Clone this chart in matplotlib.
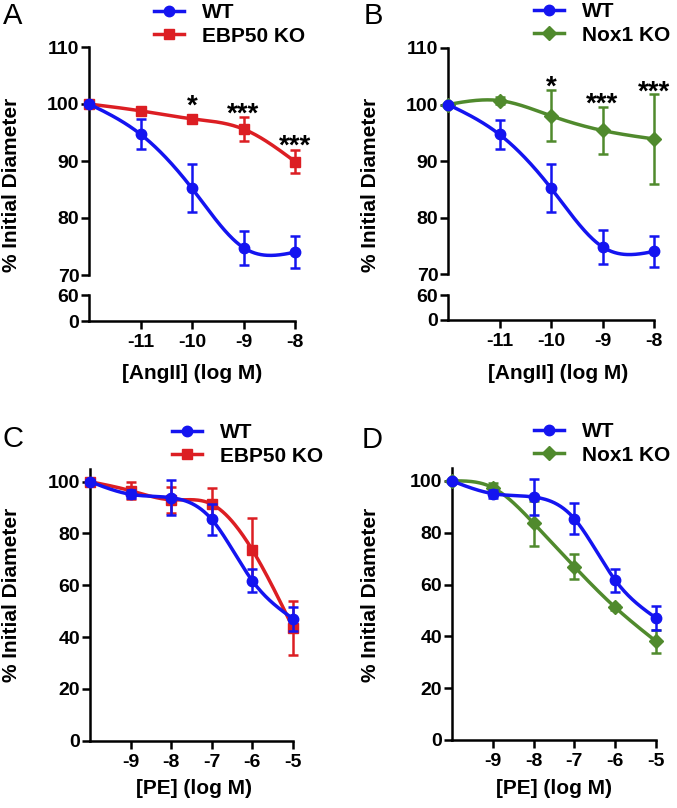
import numpy as np
import matplotlib
matplotlib.use("Agg")
import matplotlib.pyplot as plt
from matplotlib.lines import Line2D

plt.rcParams["font.family"] = ["Liberation Sans", "DejaVu Sans"]
plt.rcParams["font.weight"] = "bold"

# AngII dose response (log M), first point is the baseline
ang_x = [-12, -11, -10, -9, -8]
ang_ticks = [-11, -10, -9, -8]
wt_ang = [100, 94.7, 85.2, 74.8, 74.0]
wt_ang_err = [0, 2.6, 4.2, 3.0, 2.8]
ebp_ang = [100, 98.8, 97.4, 95.6, 89.9]
ebp_ang_err = [0, 0.5, 0.6, 2.1, 2.0]
nox_ang = [100, 100.7, 98.0, 95.4, 93.9]
nox_ang_err = [0, 0.6, 4.5, 4.1, 7.9]

# PE dose response (log M)
pe_x = [-10, -9, -8, -7, -6, -5]
pe_ticks = [-9, -8, -7, -6, -5]
wt_pe = [100, 95.1, 93.8, 85.4, 61.7, 47.1]
wt_pe_err = [0.5, 1.5, 6.8, 5.9, 4.4, 4.6]
ebp_pe = [100, 96.5, 93.0, 91.3, 73.6, 43.6]
ebp_pe_err = [1.0, 3.3, 5.0, 6.2, 12.3, 10.5]
nox_pe = [100, 97.4, 83.7, 66.9, 51.2, 38.1]
nox_pe_err = [0.5, 2.0, 8.7, 4.8, 1.0, 4.5]

# significance marks
stars_a_x = [-10, -9, -8]
stars_a_y = [101.4, 100.0, 94.4]
stars_b_x = [-10, -9, -8]
stars_b_y = [104.8, 101.8, 103.9]
stars_labels = ["*", "***", "***"]

BLUE = "#1414f0"
RED = "#dc1e23"
GREEN = "#508a2d"

W, H = 677, 808


def rect(left, right, top, bottom):
    return [left / W, 1 - bottom / H, (right - left) / W, (bottom - top) / H]


def spline(x, y, n=200):
    # natural cubic spline through the means
    x = np.asarray(x, float)
    y = np.asarray(y, float)
    h = np.diff(x)
    m = len(x)
    A = np.zeros((m, m))
    b = np.zeros(m)
    A[0, 0] = A[-1, -1] = 1
    for i in range(1, m - 1):
        A[i, i - 1] = h[i - 1]
        A[i, i] = 2 * (h[i - 1] + h[i])
        A[i, i + 1] = h[i]
        b[i] = 3 * ((y[i + 1] - y[i]) / h[i] - (y[i] - y[i - 1]) / h[i - 1])
    c = np.linalg.solve(A, b)
    bb = (y[1:] - y[:-1]) / h - h * (2 * c[:-1] + c[1:]) / 3
    d = (c[1:] - c[:-1]) / (3 * h)
    xs = np.linspace(x[0], x[-1], n)
    k = np.clip(np.searchsorted(x, xs) - 1, 0, m - 2)
    t = xs - x[k]
    ys = y[k] + bb[k] * t + c[k] * t ** 2 + d[k] * t ** 3
    return xs, ys


def style(ax):
    for s in ["top", "right"]:
        ax.spines[s].set_visible(False)
    for s in ["left", "bottom"]:
        ax.spines[s].set_linewidth(1.8)
    ax.tick_params(direction="out", length=5.5, width=1.8, labelsize=14)
    ax.tick_params(axis="y", pad=1.5)
    ax.tick_params(axis="x", pad=4)


def series(ax, x, y, err, color, marker, ms, z):
    xs, ys = spline(x, y)
    ax.plot(xs, ys, color=color, lw=2.5, zorder=z, clip_on=False)
    ax.errorbar(x, y, yerr=err, fmt="none", ecolor=color, elinewidth=1.8,
                capsize=3.5, capthick=1.8, zorder=z, clip_on=False)
    ax.plot(x, y, ls="none", marker=marker, ms=ms, color=color,
            zorder=z + 0.5, clip_on=False)


def legend(fig, x0, top, labels, colors, markers, sizes):
    handles = [Line2D([], [], color=c, lw=2.5, marker=mk, ms=s)
               for c, mk, s in zip(colors, markers, sizes)]
    fig.legend(handles, labels, loc="upper left",
               bbox_to_anchor=(x0 / W, 1 - top / H), frameon=False,
               borderpad=0, borderaxespad=0, handlelength=1.44,
               handletextpad=0.86, labelspacing=0.22,
               prop={"size": 15, "weight": "bold"})


def stars(ax, xs, ys):
    for x, y, s in zip(xs, ys, stars_labels):
        ax.annotate(s, (x, y), xytext=(0, -12.5), textcoords="offset points",
                    ha="center", va="baseline", fontsize=20, fontweight="bold",
                    annotation_clip=False)


fig = plt.figure(figsize=(W / 100, H / 100), dpi=100)


def broken_panel(left, right, top, mid_top, mid_bot, bottom, ko, ko_err,
                 ko_color, ko_marker, ko_ms, sx, sy):
    ax = fig.add_axes(rect(left, right, top, mid_top))
    axb = fig.add_axes(rect(left, right, mid_bot, bottom))
    style(ax)
    style(axb)
    ax.spines["bottom"].set_visible(False)
    ax.set_xticks([])
    ax.set_xlim(-12, -8)
    ax.set_ylim(70, 110)
    ax.set_yticks([70, 80, 90, 100, 110])
    axb.set_xlim(-12, -8)
    axb.set_ylim(0, 60)
    axb.set_yticks([0, 60])
    axb.set_xticks(ang_ticks)
    axb.set_xticklabels([str(t) for t in ang_ticks])
    series(ax, ang_x, ko, ko_err, ko_color, ko_marker, ko_ms, 3)
    series(ax, ang_x, wt_ang, wt_ang_err, BLUE, "o", 7.5, 5)
    stars(ax, sx, sy)
    return ax


def full_panel(left, right, top, bottom, ko, ko_err, ko_color, ko_marker, ko_ms):
    ax = fig.add_axes(rect(left, right, top, bottom))
    style(ax)
    ax.set_xlim(-10, -5)
    ax.set_ylim(0, 105)
    ax.set_yticks([0, 20, 40, 60, 80, 100])
    ax.set_xticks(pe_ticks)
    ax.set_xticklabels([str(t) for t in pe_ticks])
    series(ax, pe_x, ko, ko_err, ko_color, ko_marker, ko_ms, 3)
    series(ax, pe_x, wt_pe, wt_pe_err, BLUE, "o", 7.5, 5)
    return ax


broken_panel(89, 295, 47, 275, 295, 321, ebp_ang, ebp_ang_err, RED, "s", 7,
             stars_a_x, stars_a_y)
broken_panel(448, 654, 48, 274, 295, 320, nox_ang, nox_ang_err, GREEN, "D", 7,
             stars_b_x, stars_b_y)
full_panel(90, 293, 468.7, 740.7, ebp_pe, ebp_pe_err, RED, "s", 7)
full_panel(452, 656, 468, 740, nox_pe, nox_pe_err, GREEN, "D", 7)

legend(fig, 154, 3, ["WT", "EBP50 KO"], [BLUE, RED], ["o", "s"], [7.5, 7])
legend(fig, 534, 2, ["WT", "Nox1 KO"], [BLUE, GREEN], ["o", "D"], [7.5, 7])
legend(fig, 172, 423, ["WT", "EBP50 KO"], [BLUE, RED], ["o", "s"], [7.5, 7])
legend(fig, 534, 422, ["WT", "Nox1 KO"], [BLUE, GREEN], ["o", "D"], [7.5, 7])

for x, y in [(12, 185), (371, 185), (12, 595), (371, 595)]:
    fig.text(x / W, 1 - y / H, "% Initial Diameter", rotation=90, ha="center",
             va="center", fontsize=15, fontweight="bold")
for x, y, s in [(192.5, 373, "[AngII] (log M)"), (558, 373, "[AngII] (log M)"),
                (194, 788, "[PE] (log M)"), (554, 788, "[PE] (log M)")]:
    fig.text(x / W, 1 - y / H, s, ha="center", va="center", fontsize=15,
             fontweight="bold")
for x, y, s in [(3, 16, "A"), (364, 16, "B"), (3, 439, "C"), (362, 440, "D")]:
    fig.text(x / W, 1 - y / H, s, ha="left", va="center", fontsize=21,
             fontweight="normal")

fig.savefig("out.png", dpi=100)
